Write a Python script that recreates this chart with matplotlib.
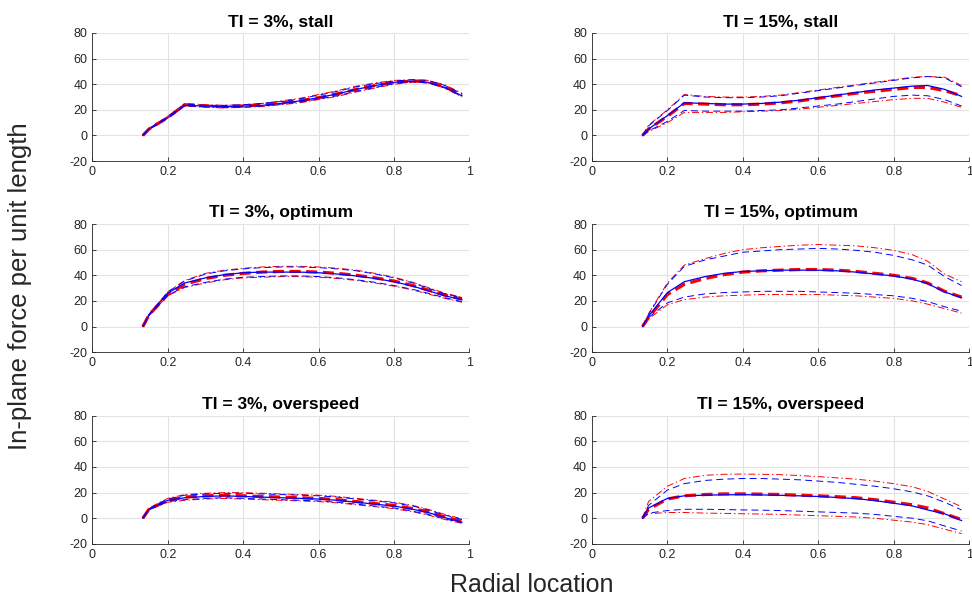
#%% imports
import matplotlib
matplotlib.use("Agg")
import matplotlib.pyplot as plt

plt.rcParams['font.family'] = ['Liberation Sans', 'DejaVu Sans']
plt.rcParams['lines.scale_dashes'] = False
plt.rcParams['axes.unicode_minus'] = False

#%% data
r = [0.134, 0.15, 0.2, 0.245, 0.3, 0.35, 0.4, 0.45, 0.5, 0.55, 0.6, 0.65, 0.7, 0.75, 0.8, 0.85, 0.89, 0.935, 0.98]
x_ticks = [0, 0.2, 0.4, 0.6, 0.8, 1]
x_ticklabels = ['0', '0.2', '0.4', '0.6', '0.8', '1']
y_ticks = [-20, 0, 20, 40, 60, 80]

titles = ['TI = 3%, stall', 'TI = 15%, stall',
          'TI = 3%, optimum', 'TI = 15%, optimum',
          'TI = 3%, overspeed', 'TI = 15%, overspeed']

# TI = 3%, stall
s3_red = [0, 5, 14, 24, 23, 22.5, 23, 24, 25.5, 27, 29.5, 32.5, 36, 39, 41.5, 42.5, 42, 38, 31.5]
s3_blue = [0, 5, 14, 23.5, 23, 22.5, 23, 23.5, 25, 27, 29.5, 32.5, 36, 39, 41.5, 42.5, 41.5, 37.5, 31]
s3_red_hi = [0.5, 5.5, 15, 25, 24, 23.5, 24, 25, 27, 29, 32, 35, 38.5, 41, 43, 43.5, 43, 39.5, 33]
s3_blue_hi = [0.5, 5.5, 14.5, 24.5, 23.5, 23.5, 24, 25, 26.5, 28.5, 31.5, 34.5, 38, 40.5, 42.5, 43.5, 43, 39, 32.5]
s3_red_lo = [0, 4.5, 13.5, 23, 22, 21.5, 22, 22.5, 24, 25.5, 28, 30.5, 34, 37, 40, 41.5, 41, 37, 30]
s3_blue_lo = [0, 4.5, 13.5, 23, 22.5, 22, 22, 23, 24.5, 26, 28.5, 31, 34.5, 37.5, 40.5, 42, 41, 37, 30.5]

# TI = 15%, stall
s15_red = [0, 5, 15, 25, 24.5, 24, 24, 24.5, 25.5, 27, 29, 31, 33, 34.5, 36, 37.5, 37.5, 35, 31]
s15_blue = [0, 5, 15.5, 25.5, 25, 24.5, 24.5, 25, 26, 27.5, 29.5, 31.5, 33.5, 35.5, 37, 38.5, 39, 36, 30.5]
s15_red_hi = [0, 8, 20, 32, 30.5, 30, 30, 30.5, 31.5, 33.5, 35.5, 37.5, 39.5, 41.5, 43.5, 45.5, 46, 45.5, 39]
s15_blue_hi = [0, 7.5, 19.5, 31.5, 30, 29.5, 29.5, 30, 31, 33, 35, 37, 39, 41, 43, 45, 46, 45, 38]
s15_red_lo = [0, 3, 10, 18, 18, 18, 18.5, 19, 19.5, 20.5, 22, 23.5, 25, 26.5, 28, 29, 29, 26, 22]
s15_blue_lo = [0, 3.5, 11, 19.5, 19, 19, 19, 19.5, 20, 21.5, 23, 24.5, 26.5, 28.5, 30.5, 31.5, 31, 28, 23]

# TI = 3%, optimum
o3_red = [0, 9, 25, 33, 37.5, 40, 41.5, 42.5, 43, 43, 42.5, 41.5, 40, 38, 35.5, 32, 28.5, 24.5, 21.5]
o3_blue = [0, 9, 26, 34, 38, 40.5, 42, 42.5, 42.5, 42.5, 42, 41, 39.5, 37.5, 35, 31.5, 28, 24, 21]
o3_red_hi = [0, 9.5, 27, 36, 41.5, 44, 45.5, 46.5, 47, 47, 46.5, 45.5, 44, 41.5, 38.5, 34.5, 30.5, 26, 23]
o3_blue_hi = [0, 9.5, 27, 35.5, 41, 43.5, 45, 46, 46.5, 46.5, 46, 45, 43.5, 41, 38, 34, 30, 25.5, 22.5]
o3_red_lo = [0, 8.5, 24, 30.5, 34, 36.5, 38, 38.5, 39, 39, 38.5, 37.5, 36, 34, 31.5, 28.5, 25.5, 22, 19]
o3_blue_lo = [0, 8.5, 24.5, 31, 34.5, 37, 38.5, 39, 39.5, 39.5, 39, 38, 36.5, 34.5, 32, 29, 26, 22.5, 19.5]

# TI = 15%, optimum
o15_red = [0, 7, 25, 33, 37.5, 40.5, 42.5, 43.5, 44, 44.5, 44.5, 44, 43, 41.5, 40, 37.5, 34, 27.5, 23]
o15_blue = [0, 8, 26.5, 35, 39, 41.5, 43, 43.5, 44, 44, 44, 43.5, 42.5, 41, 39.5, 37, 33.5, 27, 22.5]
o15_red_hi = [0, 10, 34, 48, 53, 57, 60, 61.5, 62.5, 63.5, 64, 63.5, 63, 61.5, 59.5, 56, 51, 41, 35]
o15_blue_hi = [0, 9.5, 33, 47, 52, 55, 58, 59, 60, 60.5, 61, 60.5, 59.5, 58, 55.5, 52, 48, 39, 32]
o15_red_lo = [0, 6, 17, 21, 23, 24, 24.5, 25, 25, 25, 25, 24.5, 24, 23, 22, 20, 17.5, 14, 10.5]
o15_blue_lo = [0, 7, 18.5, 23, 25.5, 26.5, 27, 27.5, 27.5, 27.5, 27, 26.5, 26, 25, 24, 22, 19.5, 15.5, 12]

# TI = 3%, overspeed
v3_red = [0, 7, 14, 16.5, 17.5, 18, 17.5, 17, 16.5, 16, 15.5, 14.5, 13, 11.5, 10, 7.5, 5, 1, -2.5]
v3_blue = [0, 7, 14, 16, 17, 17.5, 17, 16.5, 16, 15.5, 15, 14, 12.5, 11, 9.5, 7, 4.5, 0.5, -3]
v3_red_hi = [0.5, 8, 15.5, 18.5, 19.5, 20, 20, 19.5, 19, 18.5, 18, 17, 15.5, 14, 12.5, 10, 7, 3, -0.5]
v3_blue_hi = [0.5, 7.5, 15, 18, 19, 19.5, 19.5, 19, 18.5, 18, 17.5, 16.5, 15, 13.5, 12, 9.5, 6.5, 2.5, -1]
v3_red_lo = [0, 6.5, 12.5, 14, 15, 15.5, 15, 14.5, 14, 13.5, 13, 12, 10.5, 9, 7.5, 5, 2.5, -1, -4]
v3_blue_lo = [0, 6.5, 13, 14.5, 15.5, 16, 15.5, 15, 14.5, 14, 13.5, 12.5, 11, 9.5, 8, 5.5, 3, -0.5, -3.5]

# TI = 15%, overspeed
v15_red = [0, 7, 15, 17.5, 18.5, 19, 19, 18.8, 18.5, 18, 17.5, 16.8, 16, 14.5, 12.5, 10.5, 8, 3.5, -1]
v15_blue = [0, 8, 15.5, 17.5, 18, 18.3, 18.4, 18.2, 17.9, 17.5, 17, 16.2, 15.3, 13.8, 11.7, 9.6, 6.5, 3.5, -1.8]
v15_red_hi = [0, 13, 25, 31, 33.5, 34.3, 34.5, 34.3, 34, 33.3, 32.5, 31.5, 30.5, 29, 27, 24.5, 21, 15, 9]
v15_blue_hi = [0, 10, 22, 27, 29.5, 30.5, 31, 31, 30.5, 30, 29, 28, 26.5, 25, 23, 20.5, 17.5, 12.5, 6.5]
v15_red_lo = [0, 3.5, 4.5, 4.5, 4, 3.8, 3.5, 3.3, 3, 2.5, 2, 1.5, 1, 0, -1.5, -3, -5, -8.5, -12]
v15_blue_lo = [0, 4, 6, 7, 7, 6.8, 6.5, 6.3, 6, 5.5, 5, 4.5, 4, 3, 1.5, 0, -2, -6, -10]

panels = [
    (s3_red, s3_blue, s3_red_hi, s3_red_lo, s3_blue_hi, s3_blue_lo),
    (s15_red, s15_blue, s15_red_hi, s15_red_lo, s15_blue_hi, s15_blue_lo),
    (o3_red, o3_blue, o3_red_hi, o3_red_lo, o3_blue_hi, o3_blue_lo),
    (o15_red, o15_blue, o15_red_hi, o15_red_lo, o15_blue_hi, o15_blue_lo),
    (v3_red, v3_blue, v3_red_hi, v3_red_lo, v3_blue_hi, v3_blue_lo),
    (v15_red, v15_blue, v15_red_hi, v15_red_lo, v15_blue_hi, v15_blue_lo),
]

#%% layout (matlab-like subplot positions)
fig = plt.figure(figsize=(9.72, 5.99), dpi=100)
col_left = [0.095, 0.609]
ax_w = 0.388
row_bottom = [0.731, 0.412, 0.092]
ax_h = 0.214

axcol = '#262626'
for i, (red, blue, red_hi, red_lo, blue_hi, blue_lo) in enumerate(panels):
    row, col = divmod(i, 2)
    ax = fig.add_axes([col_left[col], row_bottom[row], ax_w, ax_h])

    ax.plot(r, red, color='r', lw=2.3, dashes=(8, 4))
    ax.plot(r, blue, color='b', lw=0.9)
    ax.plot(r, red_hi, color='r', lw=0.7, dashes=(5, 2, 1, 2))
    ax.plot(r, red_lo, color='r', lw=0.7, dashes=(5, 2, 1, 2))
    ax.plot(r, blue_hi, color='b', lw=0.7, dashes=(5, 3))
    ax.plot(r, blue_lo, color='b', lw=0.7, dashes=(5, 3))

    ax.set_xlim(0, 1)
    ax.set_ylim(-20, 80)
    ax.set_xticks(x_ticks)
    ax.set_xticklabels(x_ticklabels)
    ax.set_yticks(y_ticks)
    ax.grid(True, color='#e3e3e3', lw=0.8)
    ax.set_axisbelow(True)
    for s in ['top', 'right']:
        ax.spines[s].set_visible(False)
    for s in ['left', 'bottom']:
        ax.spines[s].set_color(axcol)
        ax.spines[s].set_linewidth(0.6)
    ax.tick_params(direction='in', length=3, width=0.6, colors=axcol,
                   labelsize=9, labelcolor=axcol)
    ax.set_title(titles[i], fontsize=12.5, fontweight='bold', pad=5)

fig.text(0.547, 0.003, 'Radial location', ha='center', va='bottom',
         fontsize=18, color=axcol)
fig.text(0.021, 0.522, 'In-plane force per unit length', ha='center',
         va='center', rotation=90, fontsize=18.5, color=axcol)

fig.savefig('out.png', dpi=100, facecolor='white')
